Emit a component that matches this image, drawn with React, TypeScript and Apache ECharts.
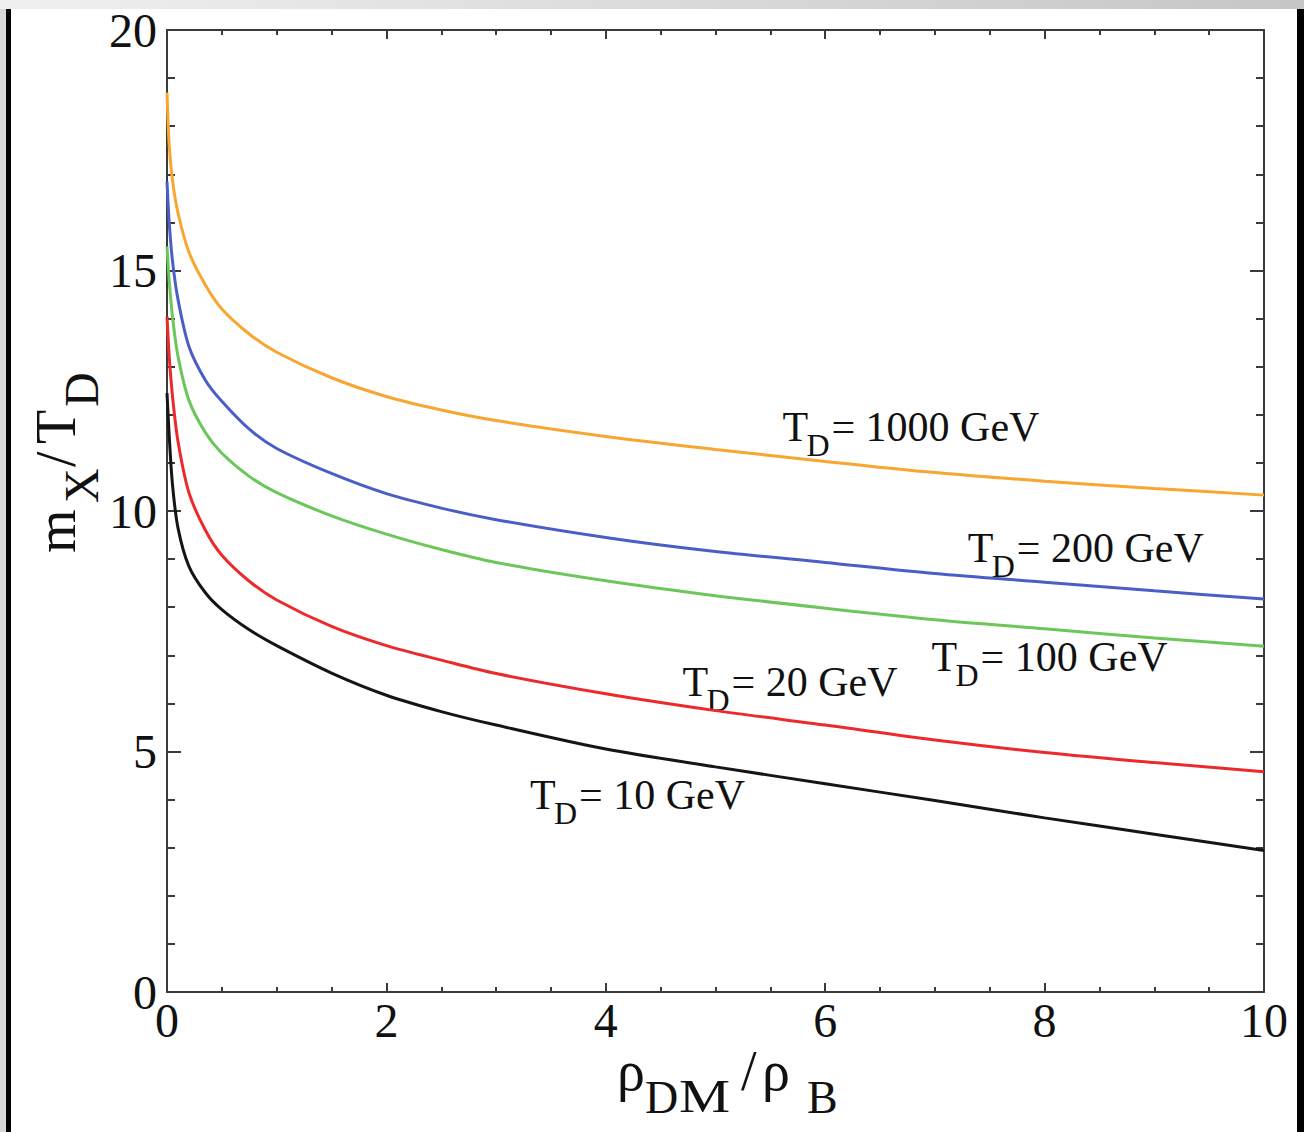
import React, { useEffect, useRef } from 'react';
import * as echarts from 'echarts';

// rho_DM / rho_B sample points
const rhoRatio = [0, 0.02, 0.05, 0.1, 0.2, 0.35, 0.5, 0.75, 1, 1.5, 2, 2.5, 3, 4, 5, 6, 7, 8, 9, 10];

// m_X / T_D for each decoupling temperature
const td1000 = [18.7, 17.6, 16.88, 16.2, 15.38, 14.7, 14.2, 13.68, 13.3, 12.77, 12.38, 12.1, 11.88, 11.55, 11.28, 11.03, 10.8, 10.62, 10.47, 10.33];
const td200 = [16.85, 16.0, 15.2, 14.4, 13.42, 12.72, 12.28, 11.7, 11.3, 10.78, 10.36, 10.06, 9.82, 9.45, 9.16, 8.93, 8.7, 8.52, 8.34, 8.17];
const td100 = [15.5, 14.8, 14.04, 13.22, 12.3, 11.63, 11.2, 10.72, 10.38, 9.9, 9.52, 9.2, 8.93, 8.55, 8.24, 7.98, 7.74, 7.55, 7.36, 7.19];
const td20 = [14.04, 13.22, 12.39, 11.45, 10.38, 9.6, 9.08, 8.54, 8.15, 7.6, 7.2, 6.9, 6.62, 6.2, 5.85, 5.55, 5.24, 4.98, 4.77, 4.58];
const td10 = [12.45, 11.57, 10.55, 9.65, 8.85, 8.3, 7.95, 7.53, 7.2, 6.63, 6.17, 5.83, 5.55, 5.05, 4.68, 4.33, 3.98, 3.62, 3.28, 2.94];

const temperatures = ['1000', '200', '100', '20', '10'];
const seriesValues = [td1000, td200, td100, td20, td10];
const seriesColors = ['#f7a630', '#4a5ec6', '#6cc75b', '#ec2a2c', '#151515'];

// label anchors in data coordinates (x, y) for T_D labels
const labelAnchorX = [5.61, 7.30, 6.97, 4.70, 3.31];
const labelAnchorY = [11.75, 9.23, 6.96, 6.44, 4.10];

const SERIF = '"Liberation Serif", "Times New Roman", serif';
const INK = '#111111';
const AXIS = '#3a3a3a';

function txt(text: string, x: number, y: number, size: number, scaleX = 1) {
  return {
    type: 'text',
    x,
    y,
    scaleX,
    style: {
      text,
      fontSize: size,
      fontFamily: SERIF,
      fill: INK,
      align: 'left',
      verticalAlign: 'middle',
    },
  };
}

function axisCommon(showLabel: boolean, majorLen: number, minorLen: number, split: number, labelMargin: number) {
  return {
    type: 'value',
    axisLine: { show: true, onZero: false, lineStyle: { color: AXIS, width: 2 } },
    axisTick: { show: true, inside: true, length: majorLen, lineStyle: { color: AXIS, width: 2 } },
    minorTick: { show: true, splitNumber: split, length: minorLen, lineStyle: { color: AXIS, width: 2 } },
    splitLine: { show: false },
    minorSplitLine: { show: false },
    axisLabel: {
      show: showLabel,
      fontFamily: SERIF,
      fontSize: 48,
      color: INK,
      margin: labelMargin,
    },
  };
}

export default function App() {
  const ref = useRef<HTMLDivElement>(null);

  useEffect(() => {
    if (!ref.current) return;
    const chart = echarts.init(ref.current, null, { renderer: 'svg', width: 1304, height: 1132 });

    const series = seriesValues.map((vals, i) => ({
      name: `T_D = ${temperatures[i]} GeV`,
      type: 'line',
      xAxisIndex: 0,
      yAxisIndex: 0,
      data: rhoRatio.map((x, j) => [x, vals[j]]),
      smooth: 0.3,
      showSymbol: false,
      symbol: 'none',
      lineStyle: { color: seriesColors[i], width: 3 },
      itemStyle: { color: seriesColors[i] },
      clip: true,
    }));

    chart.setOption({
      animation: false,
      backgroundColor: '#ffffff',
      grid: { left: 167, top: 30, width: 1097, height: 962 },
      xAxis: [
        { ...axisCommon(true, 9, 5, 4, 4), min: 0, max: 10, interval: 2, position: 'bottom' },
        { ...axisCommon(false, 9, 5, 4, 4), min: 0, max: 10, interval: 2, position: 'top' },
      ],
      yAxis: [
        { ...axisCommon(true, 14, 8, 5, 10), min: 0, max: 20, interval: 5, position: 'left' },
        { ...axisCommon(false, 14, 8, 5, 10), min: 0, max: 20, interval: 5, position: 'right' },
      ],
      series,
    });

    const labels = temperatures.map((t, i) => {
      const p = chart.convertToPixel({ gridIndex: 0 }, [labelAnchorX[i], labelAnchorY[i]]) as number[];
      return {
        type: 'group',
        x: p[0],
        y: p[1],
        children: [txt('T', 0, 0, 42), txt('D', 24, 18, 32), txt(`= ${t} GeV`, 49, 0, 42)],
      };
    });

    const decorations = [
      {
        type: 'rect',
        shape: { x: 0, y: 0, width: 1304, height: 9 },
        style: {
          fill: new echarts.graphic.LinearGradient(0, 0, 1, 0, [
            { offset: 0, color: '#f0f0f0' },
            { offset: 1, color: '#c6c6c6' },
          ]),
        },
        silent: true,
      },
      {
        type: 'rect',
        shape: { x: 0, y: 9, width: 6, height: 1123 },
        style: { fill: '#d6d6d6' },
        silent: true,
      },
      { type: 'rect', shape: { x: 6, y: 9, width: 5, height: 1123 }, style: { fill: '#000' }, silent: true },
      { type: 'rect', shape: { x: 1297, y: 9, width: 7, height: 1123 }, style: { fill: '#000' }, silent: true },
    ];

    const yTitle = {
      type: 'group',
      x: 75,
      y: 553,
      rotation: Math.PI / 2,
      children: [
        txt('m', 0, -19, 56),
        txt('X', 50, 6, 48),
        txt('/', 86, -19, 56),
        txt('T', 109, -19, 56),
        txt('D', 146, 6, 48),
      ],
    };

    const xTitle = {
      type: 'group',
      x: 0,
      y: 0,
      children: [
        txt('ρ', 617, 1071, 56),
        txt('D', 645, 1097, 46),
        txt('M', 679, 1097, 46, 1.25),
        txt('/', 741, 1071, 56),
        txt('ρ', 762, 1071, 56),
        txt('B', 807, 1097, 46),
      ],
    };

    chart.setOption({ graphic: [...decorations, ...labels, yTitle, xTitle] });

    return () => chart.dispose();
  }, []);

  return (
    <div
      ref={ref}
      style={{ position: 'absolute', left: 0, top: 0, width: 1304, height: 1132, background: '#fff' }}
    />
  );
}
